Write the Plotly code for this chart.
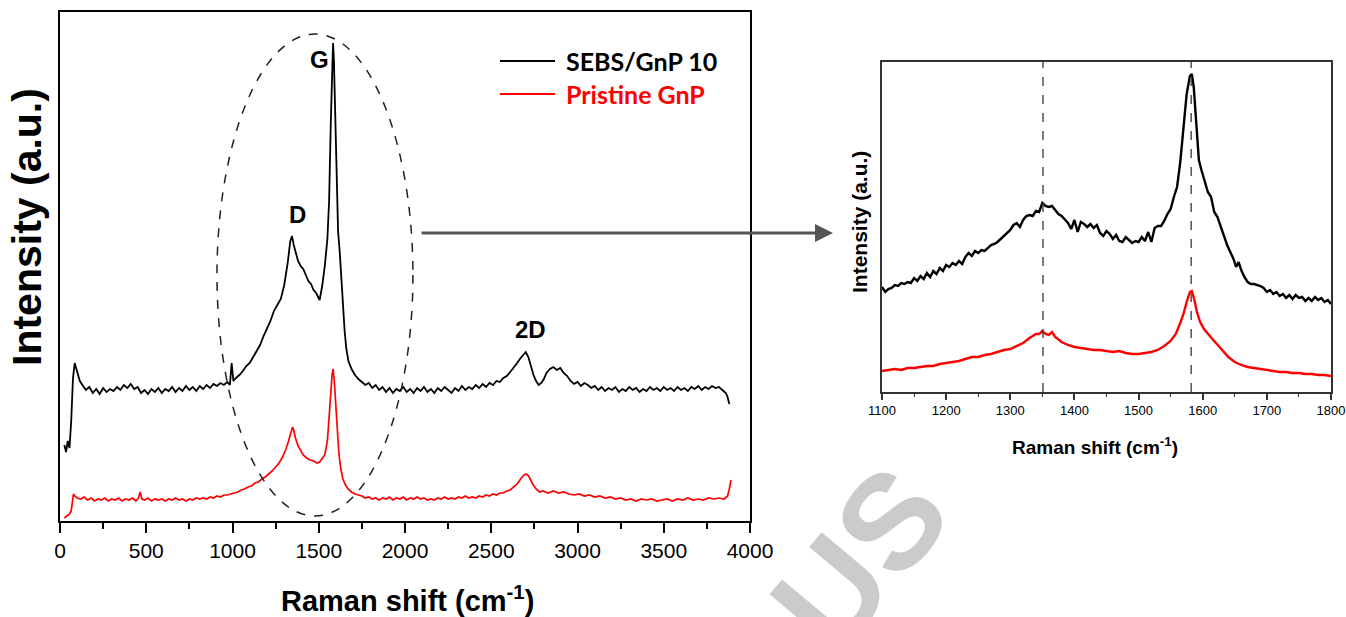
import plotly.graph_objects as go

W, H = 1346, 617

# ---------------- data ----------------
# main panel, SEBS/GnP 10 (x: Raman shift, y: intensity a.u.)
sebs_main = [(25,76),(35,69),(45,80),(55,73),(65,100),(75,142),(85,158),(100,150),(115,140),(130,136),
 (150,131),(170,134),(190,128),(210,132),(230,127),(250,133),(270,129),(290,132),(310,130),(330,134),
 (350,131),(370,136),(390,133),(410,137),(430,132),(450,134),(470,128),(490,131),(510,127),(530,132),
 (550,129),(570,133),(590,128),(610,132),(630,130),(650,134),(670,129),(690,133),(710,130),(730,135),
 (750,131),(770,134),(790,130),(810,135),(830,132),(850,136),(870,133),(890,137),(910,135),(930,138),
 (950,136),(970,139),(985,136),(995,158),(1005,140),(1020,143),(1040,146),(1060,150),(1080,155),(1100,158),
 (1120,164),(1140,170),(1160,176),(1180,185),(1200,192),(1220,200),(1240,210),(1260,216),(1280,222),(1300,236),
 (1320,258),(1335,280),(1345,285),(1355,276),(1365,270),(1380,260),(1395,255),(1410,252),(1425,246),(1440,240),
 (1455,237),(1470,231),(1485,228),(1495,224),(1505,221),(1520,235),(1535,255),(1550,282),(1560,320),(1570,400),
 (1578,460),(1583,478),(1588,460),(1595,400),(1603,330),(1612,290),(1622,268),(1630,245),(1640,215),(1650,190),
 (1660,172),(1672,160),(1690,152),(1710,146),(1730,142),(1750,139),(1770,136),(1790,138),(1810,133),(1830,136),
 (1850,131),(1870,134),(1890,129),(1910,133),(1930,128),(1950,132),(1970,130),(1990,134),(2010,129),(2030,132),
 (2050,128),(2070,133),(2090,130),(2110,134),(2130,129),(2150,132),(2170,128),(2190,133),(2210,130),(2230,134),
 (2250,131),(2270,128),(2290,133),(2310,130),(2330,135),(2350,131),(2370,134),(2390,132),(2410,136),(2430,133),
 (2450,137),(2470,134),(2490,138),(2510,136),(2530,140),(2550,139),(2570,143),(2590,145),(2610,149),(2630,153),
 (2650,158),(2670,163),(2685,166),(2700,169),(2715,164),(2730,155),(2745,146),(2760,140),(2775,136),(2790,138),
 (2805,142),(2820,148),(2840,152),(2860,154),(2880,151),(2900,153),(2920,148),(2940,145),(2960,140),(2980,137),
 (3000,139),(3020,135),(3040,138),(3060,136),(3080,133),(3100,135),(3120,131),(3140,134),(3160,130),(3180,133),
 (3200,131),(3220,134),(3240,129),(3260,132),(3280,130),(3300,134),(3320,131),(3340,133),(3360,129),(3380,132),
 (3400,130),(3420,134),(3440,131),(3460,133),(3480,130),(3500,134),(3520,131),(3540,133),(3560,130),(3580,134),
 (3600,131),(3620,133),(3640,130),(3660,134),(3680,132),(3700,135),(3720,131),(3740,134),(3760,132),(3780,135),
 (3800,133),(3820,134),(3840,131),(3860,128),(3870,124),(3880,117)]

# main panel, Pristine GnP
gnp_main = [(25,3),(40,5),(55,7),(65,10),(72,20),(78,27),(85,25),(100,23),(120,22),(140,24),
 (160,21),(180,23),(200,20),(220,22),(240,21),(260,23),(280,20),(300,22),(320,21),(340,23),
 (360,20),(380,22),(400,21),(420,23),(440,20),(455,23),(465,29),(475,22),(490,21),(510,23),
 (530,20),(550,22),(570,21),(590,22),(610,20),(630,22),(650,21),(670,23),(690,21),(710,22),
 (730,20),(750,22),(770,21),(790,23),(810,22),(830,23),(850,22),(870,24),(890,23),(910,25),
 (930,24),(950,26),(970,26),(990,27),(1010,28),(1030,29),(1050,31),(1070,32),(1090,34),(1110,35),
 (1130,38),(1150,39),(1170,42),(1190,44),(1210,47),(1230,50),(1250,54),(1270,58),(1290,64),(1310,72),
 (1325,80),(1340,90),(1348,94),(1355,91),(1365,83),(1380,75),(1395,70),(1410,66),(1430,63),(1450,61),
 (1470,60),(1490,58),(1505,59),(1520,62),(1535,66),(1550,80),(1560,100),(1570,128),(1577,146),(1583,152),
 (1590,140),(1598,115),(1607,90),(1617,67),(1628,52),(1640,42),(1655,36),(1670,32),(1690,29),(1710,27),
 (1730,26),(1750,25),(1770,23),(1790,24),(1810,22),(1830,23),(1850,21),(1870,23),(1890,22),(1910,24),
 (1930,21),(1950,23),(1970,22),(1990,24),(2010,21),(2030,23),(2050,22),(2070,24),(2090,22),(2110,23),
 (2130,21),(2150,22),(2170,21),(2190,23),(2210,22),(2230,24),(2250,22),(2270,23),(2290,22),(2310,24),
 (2330,23),(2350,25),(2370,23),(2390,24),(2410,23),(2430,25),(2450,24),(2470,26),(2490,25),(2510,27),
 (2530,26),(2550,28),(2570,28),(2590,30),(2610,31),(2630,34),(2650,37),(2670,42),(2690,46),(2705,47),
 (2720,44),(2740,37),(2760,32),(2780,29),(2800,30),(2830,28),(2860,30),(2890,28),(2920,29),(2950,27),
 (2980,26),(3010,27),(3040,25),(3070,26),(3100,24),(3130,25),(3160,23),(3190,24),(3220,22),(3250,23),
 (3280,21),(3310,22),(3340,20),(3370,22),(3400,21),(3430,22),(3460,20),(3490,21),(3520,22),(3550,20),
 (3580,22),(3610,21),(3640,23),(3670,21),(3700,22),(3730,21),(3760,23),(3790,22),(3820,23),(3850,22),
 (3870,25),(3880,32),(3890,41)]

# inset, SEBS/GnP 10 (1100-1800 cm-1)
sebs_inset = [(1100,105),(1105,100),(1110,103),(1115,104),(1120,107),(1125,106),(1130,109),(1135,108),(1140,110),(1145,109),
 (1150,114),(1155,111),(1160,116),(1165,113),(1170,119),(1175,115),(1180,121),(1185,118),(1190,124),(1195,121),
 (1200,127),(1205,125),(1210,129),(1215,127),(1220,131),(1225,128),(1230,135),(1235,139),(1240,136),(1245,141),
 (1250,139),(1255,142),(1260,141),(1265,144),(1270,147),(1275,148),(1280,150),(1285,153),(1290,156),(1295,159),
 (1300,162),(1305,167),(1310,169),(1315,165),(1320,172),(1325,176),(1330,177),(1335,176),(1340,181),(1345,180),
 (1350,189),(1355,186),(1360,185),(1365,186),(1370,182),(1375,178),(1380,176),(1385,172),(1390,169),(1395,163),
 (1400,172),(1405,160),(1410,170),(1415,168),(1420,165),(1425,168),(1430,164),(1435,167),(1440,159),(1445,156),
 (1450,161),(1455,158),(1460,153),(1465,157),(1470,151),(1475,150),(1480,155),(1485,152),(1490,149),(1495,151),
 (1500,150),(1505,155),(1510,151),(1515,160),(1520,150),(1525,164),(1530,166),(1535,166),(1540,171),(1545,178),
 (1550,183),(1555,195),(1560,205),(1565,230),(1570,262),(1575,298),(1580,316),(1583,318),(1586,305),(1590,268),
 (1594,232),(1598,222),(1603,212),(1608,200),(1613,195),(1618,180),(1623,175),(1628,165),(1633,155),(1638,147),
 (1643,140),(1648,133),(1652,125),(1656,130),(1660,122),(1665,115),(1670,110),(1675,108),(1680,108),(1685,107),
 (1690,106),(1695,104),(1700,100),(1705,102),(1710,98),(1715,100),(1720,96),(1725,98),(1730,94),(1735,97),
 (1740,93),(1745,97),(1750,94),(1755,95),(1760,91),(1765,94),(1770,91),(1775,95),(1780,92),(1785,94),
 (1790,90),(1795,92),(1800,88)]

# inset, Pristine GnP
gnp_inset = [(1100,21),(1110,22),(1120,23),(1130,22),(1140,24),(1150,24),(1160,25),(1170,26),(1180,26),(1190,28),
 (1200,29),(1210,30),(1220,31),(1230,33),(1240,35),(1250,35),(1260,37),(1270,38),(1280,40),(1290,42),
 (1300,43),(1310,46),(1320,49),(1330,54),(1340,58),(1345,58),(1350,61),(1355,58),(1360,57),(1365,60),
 (1370,55),(1380,50),(1390,47),(1400,45),(1410,44),(1420,43),(1430,42),(1440,42),(1450,41),(1460,40),
 (1470,41),(1480,39),(1490,38),(1500,38),(1510,39),(1520,40),(1530,42),(1540,46),(1550,51),(1558,58),
 (1565,69),(1570,78),(1575,90),(1580,100),(1583,101),(1587,92),(1591,80),(1596,70),(1602,63),(1608,58),
 (1615,53),(1622,48),(1630,42),(1640,35),(1650,30),(1660,27),(1670,25),(1680,24),(1690,23),(1700,22),
 (1710,21),(1720,20),(1730,20),(1740,19),(1750,19),(1760,18),(1770,18),(1780,17),(1790,17),(1800,16)]

series_names = ["SEBS/GnP 10", "Pristine GnP"]
series_colors = ["#000000", "#ff0000"]
peak_labels = ["G", "D", "2D"]
inset_marks = [1351, 1582]

# ---------------- helpers ----------------
def fx(p):
    return p / W

def fy(p):
    return 1 - p / H

FONT = "Liberation Sans, Arial, sans-serif"

fig = go.Figure()

def add(series, color, xa, ya, width):
    xs = [p[0] for p in series]
    ys = [p[1] for p in series]
    fig.add_trace(go.Scatter(x=xs, y=ys, mode="lines", xaxis=xa, yaxis=ya,
                             line=dict(color=color, width=width), showlegend=False,
                             hoverinfo="skip"))

add(sebs_main, series_colors[0], "x", "y", 1.8)
add(gnp_main, series_colors[1], "x", "y", 1.7)
add(sebs_inset, series_colors[0], "x2", "y2", 2.4)
add(gnp_inset, series_colors[1], "x2", "y2", 2.4)

fig.update_layout(
    width=W, height=H,
    margin=dict(l=0, r=0, t=0, b=0, pad=0),
    paper_bgcolor="white", plot_bgcolor="white",
    font=dict(family=FONT, color="black"),
    xaxis=dict(domain=[fx(60), fx(750)], range=[0, 4000], anchor="y", automargin=False,
               showline=True, linewidth=2, linecolor="black", mirror=True,
               ticks="outside", ticklen=10, tickwidth=2, tickcolor="black",
               tick0=0, dtick=500, tickfont=dict(size=21, family=FONT),
               minor=dict(ticks="outside", dtick=250, ticklen=6, tickwidth=1.5, tickcolor="black"),
               showgrid=False, zeroline=False),
    yaxis=dict(domain=[fy(521), fy(12)], range=[0, 509], anchor="x", automargin=False,
               showline=True, linewidth=2, linecolor="black", mirror=True,
               ticks="", showticklabels=False, showgrid=False, zeroline=False),
    xaxis2=dict(domain=[fx(882), fx(1331)], range=[1100, 1800], anchor="y2", automargin=False,
                showline=True, linewidth=1.5, linecolor="#333333", mirror=True,
                ticks="outside", ticklen=6, tickwidth=1.5, tickcolor="#333333",
                tick0=1100, dtick=100, tickfont=dict(size=13, family=FONT),
                minor=dict(ticks="outside", dtick=50, ticklen=3, tickwidth=1.2, tickcolor="#333333"),
                showgrid=False, zeroline=False),
    yaxis2=dict(domain=[fy(392), fy(62)], range=[0, 330], anchor="x2", automargin=False,
                showline=True, linewidth=1.5, linecolor="#333333", mirror=True,
                ticks="", showticklabels=False, showgrid=False, zeroline=False),
)

shapes = []
# dashed ellipse around D and G bands
shapes.append(dict(type="circle", xref="x", yref="y", x0=910, x1=2046, y0=5, y1=487,
                   line=dict(color="#222222", width=1.5, dash="dash")))
# dashed vertical markers in inset
for xm in inset_marks:
    shapes.append(dict(type="line", xref="x2", yref="y2 domain", x0=xm, x1=xm, y0=0, y1=1,
                       line=dict(color="#444444", width=1.4, dash="dash")))
# legend lines
for i, c in enumerate(series_colors):
    yy = 61 + 33 * i
    shapes.append(dict(type="line", xref="paper", yref="paper", x0=fx(500), x1=fx(555),
                       y0=fy(yy), y1=fy(yy), line=dict(color=c, width=2)))
fig.update_layout(shapes=shapes)

ann = []
# watermark remnant
ann.append(dict(text="<b>US</b>", xref="paper", yref="paper", x=fx(860), y=fy(558),
                showarrow=False, textangle=-50,
                font=dict(size=135, family=FONT, color="#cbcbcb"), xanchor="center", yanchor="middle"))
# legend texts
for i, (n, c) in enumerate(zip(series_names, series_colors)):
    yy = 61 + 33 * i
    ann.append(dict(text="<b>%s</b>" % n, xref="paper", yref="paper", x=fx(564), y=fy(yy),
                    xanchor="left", yanchor="middle", showarrow=False,
                    font=dict(size=25, family="Lato, Open Sans, sans-serif", color=c)))
# peak labels
label_pos = {"G": (319, 60), "D": (297, 215), "2D": (530, 330)}
for lab in peak_labels:
    px_, py_ = label_pos[lab]
    ann.append(dict(text="<b>%s</b>" % lab, xref="paper", yref="paper", x=fx(px_), y=fy(py_),
                    xanchor="center", yanchor="middle", showarrow=False,
                    font=dict(size=24, family=FONT, color="black")))
# axis titles (main)
ann.append(dict(text="<b>Raman shift (cm<sup>-1</sup>)</b>", xref="paper", yref="paper",
                x=fx(407), y=fy(599), xanchor="center", yanchor="middle", showarrow=False,
                font=dict(size=29, family=FONT)))
ann.append(dict(text="<b>Intensity (a.u.)</b>", xref="paper", yref="paper",
                x=fx(27), y=fy(227), xanchor="center", yanchor="middle", showarrow=False,
                textangle=-90, font=dict(size=41, family=FONT)))
# axis titles (inset)
ann.append(dict(text="<b>Raman shift (cm<sup>-1</sup>)</b>", xref="paper", yref="paper",
                x=fx(1095), y=fy(446), xanchor="center", yanchor="middle", showarrow=False,
                font=dict(size=19, family=FONT)))
ann.append(dict(text="<b>Intensity (a.u.)</b>", xref="paper", yref="paper",
                x=fx(859), y=fy(222), xanchor="center", yanchor="middle", showarrow=False,
                textangle=-90, font=dict(size=21, family=FONT)))
# arrow from ellipse to inset
ann.append(dict(text="", xref="paper", yref="paper", x=fx(833), y=fy(233),
                axref="pixel", ayref="pixel", ax=-413, ay=0, showarrow=True,
                arrowhead=2, arrowsize=1.2, arrowwidth=3, arrowcolor="#555555"))
fig.update_layout(annotations=ann)

fig.write_html("out.html")
